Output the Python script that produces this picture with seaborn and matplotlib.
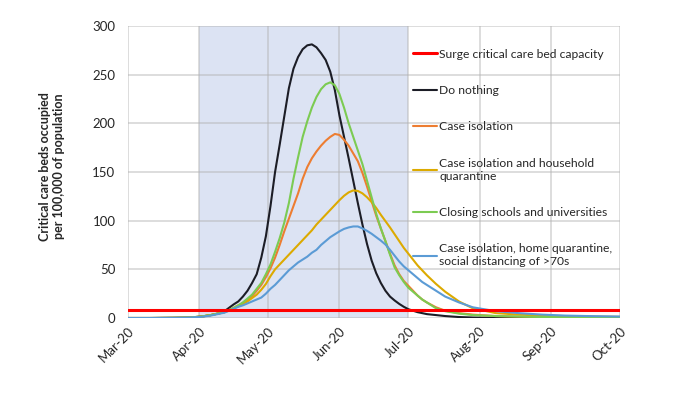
import numpy as np
import pandas as pd
import seaborn as sns
import matplotlib.pyplot as plt
import matplotlib.dates as mdates

# days after 1 March 2020
days = [0, 10, 20, 27, 32, 36,
        40, 42, 44, 46, 48, 50, 52, 54, 56, 58,
        60, 62, 64, 66, 68, 70, 72, 74, 76, 78,
        80, 82, 84, 86, 88, 90, 92, 94, 96, 98,
        100, 102, 104, 106, 108, 110, 112, 114, 116, 118,
        120, 122, 124, 126, 128, 130,
        134, 138, 144, 150, 160, 170, 180, 190, 200, 214]

do_nothing = [0, 0, 0.2, 0.5, 1.5, 3,
              5, 7, 10.5, 14, 17, 22, 28, 36, 45, 62,
              84, 115, 150, 178, 207, 236, 256, 268, 276, 280,
              281, 278, 272, 265, 253, 234, 208, 186, 164, 141,
              118, 96, 76, 59, 46, 36, 28, 22, 18, 14.5,
              11.5, 9, 7.5, 6, 5, 4,
              3, 2, 1, 0.5, 0.3, 0.2, 0.2, 0.2, 0.2, 0.2]
case_isolation = [0, 0, 0.2, 0.5, 1.5, 3,
                  5, 6, 8, 10.5, 13, 15.5, 18.5, 22.5, 28, 34,
                  42, 51, 62, 75, 89, 102, 115, 128, 143, 155,
                  164, 171, 177, 182, 186, 189, 188, 183, 177, 169,
                  161, 149, 135, 120, 105, 92, 79, 66, 54, 45,
                  38, 33, 28, 23, 19, 16,
                  11, 7.5, 5, 3.5, 2, 1.5, 1, 0.8, 0.6, 0.5]
household = [0, 0, 0.2, 0.5, 1.5, 3,
             5, 6, 8, 10, 12, 14.5, 17, 20.5, 24, 29,
             35, 43, 50, 55, 60, 65, 70, 75, 80, 85,
             90, 96, 101, 106, 111, 116, 121, 125.5, 129, 131,
             130.5, 128, 124, 119, 113, 106, 99.5, 93, 86, 79,
             72, 66, 60, 54, 49, 44,
             35, 27, 17, 10, 5, 3.5, 2.5, 2, 1.5, 1.2]
schools = [0, 0, 0.2, 0.5, 1.5, 3,
           5, 6, 8, 10.5, 13, 16, 20, 24, 30, 36,
           45, 55, 68, 82, 98, 118, 143, 165, 186, 202,
           216, 227, 235, 240, 242, 239, 230, 216, 200, 186,
           172, 158, 141, 124, 107, 92, 79, 65, 52, 44,
           37, 31, 27, 23, 19, 16,
           10, 7, 4.5, 3, 2, 1.5, 1, 0.8, 0.6, 0.5]
distancing = [0, 0, 0.2, 0.5, 1.2, 2.5,
              4.5, 5.5, 7.5, 9.5, 11.5, 13, 15, 17, 19, 21,
              25, 30, 34, 39, 44, 49, 53, 57, 60, 63,
              67, 70, 75, 79, 83, 86, 89, 91.5, 93, 94,
              94, 92, 89.5, 86.5, 83, 79.5, 75.5, 70, 64, 58,
              53, 49, 45, 41, 37, 34,
              28, 22, 16, 11, 7, 5, 3.5, 2.5, 2, 1.5]

surge_capacity = 8
labels = ["Do nothing", "Case isolation", "Case isolation and household\nquarantine",
          "Closing schools and universities",
          "Case isolation, home quarantine,\nsocial distancing of >70s"]
colors = ["#1c1d26", "#ed7d31", "#dcaa00", "#7ccb52", "#5b9bd5"]

dates = pd.Timestamp("2020-03-01") + pd.to_timedelta(days, unit="D")

sns.set_style("white")
plt.rcParams['font.family'] = ['Lato', 'DejaVu Sans']

fig = plt.figure(figsize=(6.88, 3.98), dpi=100)
ax = fig.add_axes([0.186, 0.201, 0.715, 0.734])

ax.axvspan(pd.Timestamp("2020-04-01"), pd.Timestamp("2020-07-01"), color="#dce3f3", lw=0, zorder=0.5)
ax.axhline(surge_capacity, color="#ff0000", lw=2.2, zorder=5, label="Surge critical care bed capacity")

for vals, lab, col in zip([do_nothing, case_isolation, household, schools, distancing], labels, colors):
    sns.lineplot(x=dates, y=vals, color=col, lw=1.5, label=lab, ax=ax)

ax.set_xlim(pd.Timestamp("2020-03-01"), pd.Timestamp("2020-10-01"))
ax.set_ylim(0, 300)
ax.set_yticks(range(0, 301, 50))
ax.xaxis.set_major_locator(mdates.MonthLocator())
ax.xaxis.set_major_formatter(mdates.DateFormatter("%b-%y"))
ax.grid(True, color="#b0b0b0", alpha=0.5, lw=1.2)
for s in ax.spines.values():
    s.set_visible(False)
ax.tick_params(axis="y", length=0, pad=9, labelsize=9.5)
ax.tick_params(axis="x", length=0, pad=5, labelsize=9.5)
for t in ax.get_xticklabels():
    t.set_rotation(45)
    t.set_ha("right")
    t.set_rotation_mode("anchor")

ax.set_xlabel("")
ax.set_ylabel("Critical care beds occupied\nper 100,000 of population", fontsize=9, fontweight="bold")
ax.yaxis.set_label_coords(-0.128, 0.52)

ax.legend(loc="upper left", bbox_to_anchor=(0.579, 0.922), frameon=False, fontsize=8.7,
          borderpad=0, borderaxespad=0, handlelength=2.0, handletextpad=0.2, labelspacing=2.1)

fig.savefig("out.png", dpi=100)
